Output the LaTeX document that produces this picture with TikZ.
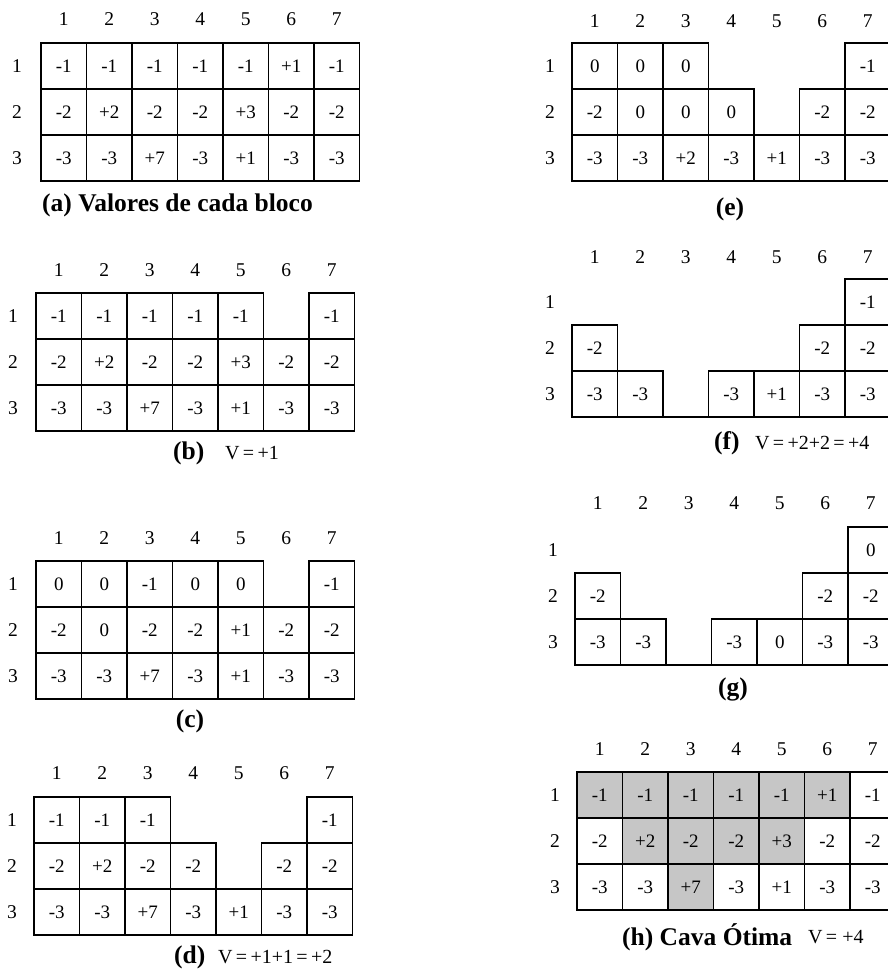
\documentclass[tikz,border=0pt]{standalone}
\usepackage{fontspec}
\setmainfont{Liberation Serif}
\usetikzlibrary{positioning}

\tikzset{
    cell/.style={draw, line width=1.5pt, minimum width=45.5pt, minimum height=46pt,
        inner sep=0pt, outer sep=0pt, text height=12.5pt, text depth=0pt,
        font=\fontsize{19}{19}\selectfont},
    pitcell/.style={cell, fill=gray!45},
    lbl/.style={inner sep=0pt, text height=13pt, text depth=0pt,
        font=\fontsize{19.5}{19.5}\selectfont},
    captxt/.style={inner sep=0pt, font=\fontsize{25.5}{25.5}\selectfont\bfseries},
    valtxt/.style={inner sep=0pt, font=\fontsize{20}{20}\selectfont}
}

\begin{document}
\begin{tikzpicture}[x=1pt, y=-1pt]
    \useasboundingbox (0,0) rectangle (888,969);

    % Constants
    \pgfmathsetmacro{\w}{45.5}
    \pgfmathsetmacro{\h}{46}

    % ---- (a) block values ----
    \begin{scope}[shift={(41,43)}]
        \foreach \c in {1,...,7}
            \node [lbl] (ah\c) at ({(\c-0.5)*\w}, -24) {\c};
        \foreach \r in {1,2,3}
            \node [lbl] (ar\r) at (-24, {(\r-0.5)*\h}) {\r};
        \foreach \r/\c/\v in {1/1/-1,1/2/-1,1/3/-1,1/4/-1,1/5/-1,1/6/+1,1/7/-1,
                              2/1/-2,2/2/+2,2/3/-2,2/4/-2,2/5/+3,2/6/-2,2/7/-2,
                              3/1/-3,3/2/-3,3/3/+7,3/4/-3,3/5/+1,3/6/-3,3/7/-3}
            \node [cell] (a\r\c) at ({(\c-0.5)*\w}, {(\r-0.5)*\h}) {\v};
    \end{scope}
    \node [captxt, anchor=west] (acap) at (42,205) {(a) Valores de cada bloco};

    % ---- (b) ----
    \begin{scope}[shift={(36,293)}]
        \foreach \c in {1,...,7}
            \node [lbl] (bh\c) at ({(\c-0.5)*\w}, -23) {\c};
        \foreach \r in {1,2,3}
            \node [lbl] (br\r) at (-23, {(\r-0.5)*\h}) {\r};
        \foreach \r/\c/\v in {1/1/-1,1/2/-1,1/3/-1,1/4/-1,1/5/-1,1/7/-1,
                              2/1/-2,2/2/+2,2/3/-2,2/4/-2,2/5/+3,2/6/-2,2/7/-2,
                              3/1/-3,3/2/-3,3/3/+7,3/4/-3,3/5/+1,3/6/-3,3/7/-3}
            \node [cell] (b\r\c) at ({(\c-0.5)*\w}, {(\r-0.5)*\h}) {\v};
    \end{scope}
    \node [captxt, anchor=west] (bcap) at (173,453) {(b)};
    \node [valtxt, anchor=west] (bval) at (225,453) {V\,=\,+1};

    % ---- (c) ----
    \begin{scope}[shift={(36,561)}]
        \foreach \c in {1,...,7}
            \node [lbl] (ch\c) at ({(\c-0.5)*\w}, -23) {\c};
        \foreach \r in {1,2,3}
            \node [lbl] (cr\r) at (-23, {(\r-0.5)*\h}) {\r};
        \foreach \r/\c/\v in {1/1/0,1/2/0,1/3/-1,1/4/0,1/5/0,1/7/-1,
                              2/1/-2,2/2/0,2/3/-2,2/4/-2,2/5/+1,2/6/-2,2/7/-2,
                              3/1/-3,3/2/-3,3/3/+7,3/4/-3,3/5/+1,3/6/-3,3/7/-3}
            \node [cell] (c\r\c) at ({(\c-0.5)*\w}, {(\r-0.5)*\h}) {\v};
    \end{scope}
    \node [captxt] (ccap) at (190,721) {(c)};

    % ---- (d) ----
    \begin{scope}[shift={(34,797)}]
        \foreach \c in {1,...,7}
            \node [lbl] (dh\c) at ({(\c-0.5)*\w}, -24) {\c};
        \foreach \r in {1,2,3}
            \node [lbl] (dr\r) at (-22, {(\r-0.5)*\h}) {\r};
        \foreach \r/\c/\v in {1/1/-1,1/2/-1,1/3/-1,1/7/-1,
                              2/1/-2,2/2/+2,2/3/-2,2/4/-2,2/6/-2,2/7/-2,
                              3/1/-3,3/2/-3,3/3/+7,3/4/-3,3/5/+1,3/6/-3,3/7/-3}
            \node [cell] (d\r\c) at ({(\c-0.5)*\w}, {(\r-0.5)*\h}) {\v};
    \end{scope}
    \node [captxt, anchor=west] (dcap) at (174,957) {(d)};
    \node [valtxt, anchor=west] (dval) at (218,957) {V\,=\,+1+1\,=\,+2};

    % ---- (e) ----
    \begin{scope}[shift={(572,43)}]
        \foreach \c in {1,...,7}
            \node [lbl] (eh\c) at ({(\c-0.5)*\w}, -22) {\c};
        \foreach \r in {1,2,3}
            \node [lbl] (er\r) at (-22, {(\r-0.5)*\h}) {\r};
        \foreach \r/\c/\v in {1/1/0,1/2/0,1/3/0,1/7/-1,
                              2/1/-2,2/2/0,2/3/0,2/4/0,2/6/-2,2/7/-2,
                              3/1/-3,3/2/-3,3/3/+2,3/4/-3,3/5/+1,3/6/-3,3/7/-3}
            \node [cell] (e\r\c) at ({(\c-0.5)*\w}, {(\r-0.5)*\h}) {\v};
    \end{scope}
    \node [captxt] (ecap) at (730,209) {(e)};

    % ---- (f) ----
    \begin{scope}[shift={(572,279)}]
        \foreach \c in {1,...,7}
            \node [lbl] (fh\c) at ({(\c-0.5)*\w}, -22) {\c};
        \foreach \r in {1,2,3}
            \node [lbl] (fr\r) at (-22, {(\r-0.5)*\h}) {\r};
        \foreach \r/\c/\v in {1/7/-1,
                              2/1/-2,2/6/-2,2/7/-2,
                              3/1/-3,3/2/-3,3/4/-3,3/5/+1,3/6/-3,3/7/-3}
            \node [cell] (f\r\c) at ({(\c-0.5)*\w}, {(\r-0.5)*\h}) {\v};
        % floor under the mined column
        \draw [line width=1.5pt] (f32.south east) -- (f34.south west);
    \end{scope}
    \node [captxt, anchor=west] (fcap) at (714,443) {(f)};
    \node [valtxt, anchor=west] (fval) at (755,443) {V\,=\,+2+2\,=\,+4};

    % ---- (g) ----
    \begin{scope}[shift={(575,527)}]
        \foreach \c in {1,...,7}
            \node [lbl] (gh\c) at ({(\c-0.5)*\w}, -24) {\c};
        \foreach \r in {1,2,3}
            \node [lbl] (gr\r) at (-22, {(\r-0.5)*\h}) {\r};
        \foreach \r/\c/\v in {1/7/0,
                              2/1/-2,2/6/-2,2/7/-2,
                              3/1/-3,3/2/-3,3/4/-3,3/5/0,3/6/-3,3/7/-3}
            \node [cell] (g\r\c) at ({(\c-0.5)*\w}, {(\r-0.5)*\h}) {\v};
        \draw [line width=1.5pt] (g32.south east) -- (g34.south west);
    \end{scope}
    \node [captxt] (gcap) at (733,689) {(g)};

    % ---- (h) optimal pit ----
    \begin{scope}[shift={(577,772)}]
        \foreach \c in {1,...,7}
            \node [lbl] (hh\c) at ({(\c-0.5)*\w}, -23) {\c};
        \foreach \r in {1,2,3}
            \node [lbl] (hr\r) at (-22, {(\r-0.5)*\h}) {\r};
        % pit blocks (shaded)
        \foreach \r/\c/\v in {1/1/-1,1/2/-1,1/3/-1,1/4/-1,1/5/-1,1/6/+1,
                              2/2/+2,2/3/-2,2/4/-2,2/5/+3,
                              3/3/+7}
            \node [pitcell] (h\r\c) at ({(\c-0.5)*\w}, {(\r-0.5)*\h}) {\v};
        % remaining blocks
        \foreach \r/\c/\v in {1/7/-1,
                              2/1/-2,2/6/-2,2/7/-2,
                              3/1/-3,3/2/-3,3/4/-3,3/5/+1,3/6/-3,3/7/-3}
            \node [cell] (h\r\c) at ({(\c-0.5)*\w}, {(\r-0.5)*\h}) {\v};
    \end{scope}
    \node [captxt, anchor=west] (hcap) at (622,937) {(h) Cava Ótima};
    \node [valtxt, anchor=west] (hval) at (808,937) {V\,=\ +4};

\end{tikzpicture}
\end{document}
